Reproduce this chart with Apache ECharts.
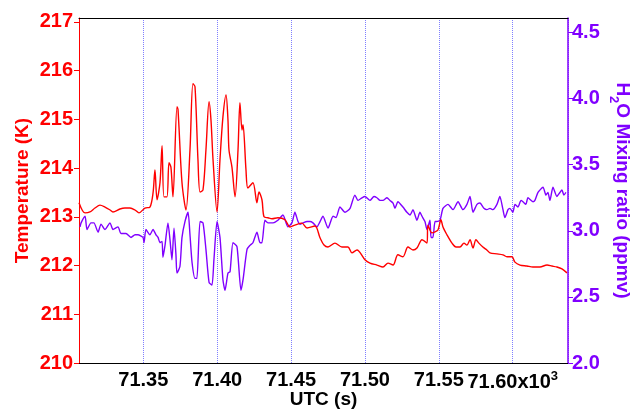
<!DOCTYPE html>
<html>
<head>
<meta charset="utf-8">
<script src="https://cdn.jsdelivr.net/npm/echarts@6/dist/echarts.min.js"></script>
<style>html,body{margin:0;padding:0;background:#fff}#c{width:634px;height:412px}</style>
</head>
<body>
<div id="c"></div>
<script>
// UTC seconds for temperature samples
var tempTime = [71306.5,71310.6,71313.9,71317.3,71320.7,71324.1,71327.5,71329.5,71334.2,71337.6,71341.0,71344.4,71347.1,71351.1,71354.5,71356.6,71357.9,71359.3,71361.3,71362.7,71364.0,71366.0,71367.4,71368.7,71370.1,71372.8,71373.5,71376.2,71378.9,71381.6,71383.6,71385.0,71387.0,71388.4,71390.4,71392.4,71394.5,71395.8,71397.2,71399.9,71401.9,71403.9,71406.0,71407.3,71408.0,71410.0,71412.1,71414.1,71415.4,71416.8,71417.5,71419.5,71420.8,71424.2,71426.9,71428.3,71430.3,71431.7,71434.4,71437.1,71441.1,71445.9,71449.3,71452.6,71457.4,71460.8,71466.2,71469.6,71472.3,71475.0,71479.7,71484.4,71488.5,71491.2,71494.6,71500.0,71503.4,71508.1,71512.2,71515.6,71519.0,71522.3,71525.7,71529.1,71532.5,71535.2,71538.6,71542.0,71542.6,71545.3,71547.4,71549.4,71551.4,71552.8,71555.5,71558.9,71561.6,71564.3,71567.0,71569.0,71571.1,71573.1,71575.1,71577.1,71579.8,71582.5,71584.6,71589.3,71593.4,71596.1,71599.5,71601.5,71604.9,71609.6,71613.7,71618.4,71623.2,71626.5,71629.9,71633.3,71636.7];
// Temperature (K)
var tempK = [213.29,213.08,213.10,213.18,213.24,213.20,213.14,213.10,213.16,213.18,213.18,213.14,213.08,213.18,213.20,213.49,213.96,213.35,213.70,214.46,213.41,213.41,214.11,214.02,213.41,215.26,215.20,213.70,213.14,214.37,215.73,215.67,214.17,213.51,213.55,214.37,215.36,214.99,214.17,213.10,214.17,215.05,215.50,214.99,214.37,214.02,213.41,214.37,215.34,214.78,214.89,213.96,213.59,213.70,213.29,213.51,213.35,213.00,212.98,212.96,212.98,212.94,212.79,212.83,212.87,212.77,212.81,212.57,212.42,212.38,212.46,212.38,212.38,212.26,212.32,212.12,212.05,212.01,211.97,212.05,212.01,212.22,212.18,212.38,212.32,212.36,212.53,212.46,212.83,212.67,212.69,212.73,212.94,212.79,212.63,212.46,212.38,212.38,212.46,212.42,212.53,212.36,212.53,212.46,212.38,212.32,212.26,212.24,212.22,212.18,212.18,212.07,212.01,211.99,211.97,211.97,212.01,211.99,211.97,211.93,211.85];
// UTC seconds for H2O samples
var h2oTime = [71307.2,71307.9,71310.6,71311.9,71314.6,71316.6,71319.4,71321.4,71324.1,71327.5,71329.5,71332.9,71334.9,71338.3,71341.7,71344.4,71346.4,71349.8,71350.5,71351.8,71354.5,71356.6,71358.6,71360.0,71361.3,71362.7,71363.3,71364.7,71366.7,71368.1,71369.4,71370.8,71372.1,71372.8,71374.8,71376.2,71378.2,71380.3,71381.6,71383.0,71385.0,71386.3,71388.4,71390.4,71392.4,71394.5,71396.5,71397.8,71399.9,71401.9,71403.9,71405.3,71407.3,71408.7,71410.7,71413.4,71416.1,71417.5,71420.2,71422.2,71424.2,71426.9,71429.0,71430.3,71432.3,71434.4,71437.8,71441.1,71444.5,71447.9,71450.6,71452.6,71454.7,71456.0,71458.1,71460.8,71462.8,71464.8,71467.5,71469.6,71471.6,71475.0,71478.4,71480.4,71483.1,71486.5,71489.9,71493.2,71495.3,71498.0,71500.0,71503.4,71506.1,71508.1,71510.2,71512.2,71514.9,71516.9,71519.0,71520.3,71522.3,71525.7,71528.4,71530.5,71532.5,71535.2,71537.2,71538.6,71540.6,71542.0,71544.0,71544.7,71546.0,71547.4,71548.7,71550.8,71552.8,71556.2,71559.6,71563.0,71566.3,71569.0,71571.1,71573.1,71575.8,71577.8,71580.5,71582.5,71584.6,71586.6,71589.3,71591.3,71593.4,71594.7,71596.8,71598.1,71600.1,71601.5,71603.5,71605.6,71606.9,71608.9,71610.3,71613.7,71615.0,71617.1,71620.5,71622.5,71623.8,71625.2,71627.2,71629.9,71631.9,71633.3,71634.6,71636.0];
// H2O mixing ratio (ppmv)
var h2oPpmv = [3.03,3.06,3.11,3.01,3.06,3.06,2.99,3.05,3.01,3.06,3.01,3.03,2.98,2.98,2.95,2.97,2.97,2.95,2.91,3.01,2.97,3.01,2.97,2.95,2.91,2.92,2.80,2.89,3.06,2.93,2.78,3.02,2.82,2.68,2.73,2.95,3.07,3.14,2.97,2.76,2.64,2.64,3.07,3.06,2.86,2.61,2.59,2.78,3.07,2.95,2.63,2.55,2.68,2.69,2.91,2.88,2.55,2.63,2.86,2.89,2.91,2.99,2.91,2.91,3.08,3.06,3.06,3.08,3.12,3.03,3.06,3.14,3.07,3.05,3.06,3.07,3.07,3.06,3.03,3.07,3.11,3.02,3.11,3.10,3.18,3.14,3.17,3.27,3.23,3.25,3.26,3.23,3.26,3.25,3.23,3.23,3.25,3.23,3.21,3.17,3.22,3.18,3.14,3.12,3.16,3.08,3.14,3.11,3.07,3.01,3.08,2.95,2.95,3.07,3.07,3.08,3.17,3.20,3.16,3.22,3.16,3.20,3.26,3.14,3.20,3.21,3.17,3.16,3.17,3.16,3.20,3.26,3.16,3.10,3.16,3.17,3.14,3.20,3.18,3.23,3.22,3.20,3.25,3.22,3.23,3.29,3.33,3.27,3.29,3.23,3.33,3.26,3.29,3.31,3.27,3.29];
var xRange = [71306.5, 71637.4];
var tempRange = [210, 217.08];
var h2oRange = [2.0, 4.61];

function pairs(a, b) { return a.map(function (v, i) { return [v, b[i]]; }); }

var RED = '#ff0000', PURPLE = '#8000ff';
var FONT = '"Liberation Sans", Arial, sans-serif';

var chart = echarts.init(document.getElementById('c'), null, { renderer: 'canvas' });
chart.setOption({
  animation: false,
  backgroundColor: '#ffffff',
  grid: { left: 79, right: 66, top: 18, bottom: 49, containLabel: false, outerBoundsMode: 'none' },
  xAxis: [{
    type: 'value', min: xRange[0], max: xRange[1], splitNumber: 7,
    name: 'UTC (s)', nameLocation: 'middle', nameGap: 27, nameMoveOverlap: false,
    nameTextStyle: { color: '#000', fontSize: 19, fontWeight: 'bold', fontFamily: FONT },
    axisLine: { show: true, lineStyle: { color: '#000', width: 1 } },
    axisTick: { show: false },
    axisLabel: {
      margin: 7, color: '#000', fontSize: 20, fontWeight: 'bold', fontFamily: FONT,
      showMinLabel: false, showMaxLabel: false, hideOverlap: false,
      formatter: function (v) {
        if (Math.abs(v / 50 - Math.round(v / 50)) > 1e-6) return '';
        var s = (v / 1000).toFixed(2);
        if (Math.round(v) === 71600) return '{n|' + s + 'x10}{sup|3}';
        return s;
      },
      rich: {
        n: { fontSize: 20, fontWeight: 'bold', fontFamily: FONT, color: '#000', lineHeight: 22, verticalAlign: 'bottom' },
        sup: { fontSize: 13, fontWeight: 'bold', fontFamily: FONT, color: '#000', lineHeight: 13, verticalAlign: 'top' }
      }
    },
    splitLine: { show: true, lineStyle: { color: '#7f7fff', type: [1, 1], width: 1 } }
  }, {
    type: 'value', position: 'top', min: xRange[0], max: xRange[1],
    axisLine: { show: true, lineStyle: { color: '#000', width: 1 } },
    axisTick: { show: false }, axisLabel: { show: false }, splitLine: { show: false }
  }],
  yAxis: [{
    type: 'value', position: 'left', min: tempRange[0], max: tempRange[1], interval: 1,
    name: 'Temperature (K)', nameLocation: 'middle', nameGap: 47, nameRotate: 90, nameMoveOverlap: false,
    nameTextStyle: { color: RED, fontSize: 19, fontWeight: 'bold', fontFamily: FONT },
    axisLine: { show: true, lineStyle: { color: RED, width: 1 } },
    axisTick: { show: true, length: 5, lineStyle: { color: RED } },
    axisLabel: { margin: 6, color: RED, fontSize: 20, fontWeight: 'bold', fontFamily: FONT, showMaxLabel: false },
    splitLine: { show: false }
  }, {
    type: 'value', position: 'right', min: h2oRange[0], max: h2oRange[1], interval: 0.5,
    name: '{a|H}{sub|2}{a|O Mixing ratio (ppmv)}', nameLocation: 'middle', nameGap: 42, nameRotate: -90, nameMoveOverlap: false,
    nameTextStyle: {
      color: PURPLE, fontSize: 19, fontWeight: 'bold', fontFamily: FONT,
      rich: {
        a: { color: PURPLE, fontSize: 19, fontWeight: 'bold', fontFamily: FONT, lineHeight: 22, verticalAlign: 'top' },
        sub: { color: PURPLE, fontSize: 13, fontWeight: 'bold', fontFamily: FONT, lineHeight: 13, verticalAlign: 'bottom', padding: [0, 0, -3, 0] }
      }
    },
    axisLine: { show: true, lineStyle: { color: PURPLE, width: 1.5 } },
    axisTick: { show: true, length: 5, lineStyle: { color: PURPLE } },
    axisLabel: {
      margin: 4, color: PURPLE, fontSize: 20, fontWeight: 'bold', fontFamily: FONT, showMaxLabel: false,
      formatter: function (v) { return v.toFixed(1); }
    },
    splitLine: { show: false }
  }],
  series: [{
    type: 'line', name: 'Temperature', xAxisIndex: 0, yAxisIndex: 0,
    data: pairs(tempTime, tempK), showSymbol: false, symbol: 'none', smooth: 0.3,
    lineStyle: { color: RED, width: 1.4 }, z: 3
  }, {
    type: 'line', name: 'H2O', xAxisIndex: 0, yAxisIndex: 1,
    data: pairs(h2oTime, h2oPpmv), showSymbol: false, symbol: 'none', smooth: 0.2,
    lineStyle: { color: PURPLE, width: 1.4 }, z: 2
  }]
});
</script>
</body>
</html>
